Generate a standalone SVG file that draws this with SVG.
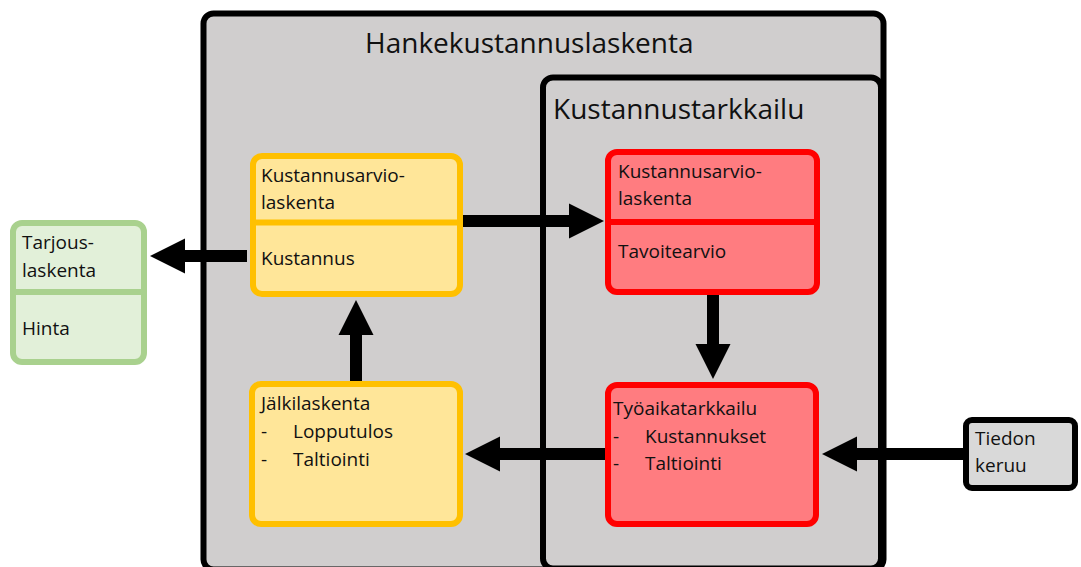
<svg xmlns="http://www.w3.org/2000/svg" width="1081" height="567" viewBox="0 0 1081 567">
<style>
text{font-family:"Open Sans","Noto Sans","Liberation Sans",sans-serif;fill:#111;}
.big{font-size:28px;}
.sm{font-size:19px;}
.frame{fill:#d0cece;stroke:#000;stroke-width:6;}
.yel{fill:#ffe699;stroke:#ffc000;stroke-width:6;}
.red{fill:#ff7c80;stroke:#ff0000;stroke-width:6;}
.grn{fill:#e2f0d9;stroke:#a9d18e;stroke-width:6;}
.gry{fill:#d9d9d9;stroke:#000;stroke-width:6;}
.dy{stroke:#ffc000;stroke-width:6;}
.dr{stroke:#ff0000;stroke-width:6;}
.dg{stroke:#a9d18e;stroke-width:6;}
.arr{stroke:#000;stroke-width:12;fill:none;marker-end:url(#head);}
</style>
<defs>
<marker id="head" markerUnits="userSpaceOnUse" markerWidth="35" markerHeight="35" refX="0" refY="17.5" orient="auto" overflow="visible">
<path d="M0,0 L35,17.5 L0,35 Z" fill="#000"/>
</marker>
</defs>
<g id="hankekustannuslaskenta">
<rect class="frame" x="203.5" y="13.5" width="680" height="556" rx="10"/>
<text class="big" x="365" y="53">Hankekustannuslaskenta</text>
</g>
<g id="kustannustarkkailu">
<rect class="frame" x="543" y="77.5" width="338" height="491" rx="10"/>
<text class="big" x="553" y="119">Kustannustarkkailu</text>
</g>
<g id="connectors">
<line class="arr" x1="247" y1="256" x2="185" y2="256"/>
<line class="arr" x1="463" y1="221" x2="569" y2="221"/>
<line class="arr" x1="356" y1="381" x2="356" y2="335"/>
<line class="arr" x1="713" y1="295" x2="713" y2="344"/>
<line class="arr" x1="605" y1="454" x2="500" y2="454"/>
<line class="arr" x1="963" y1="454" x2="857" y2="454"/>
</g>
<g id="tarjouslaskenta">
<rect class="grn" x="13" y="223" width="131" height="139" rx="9"/>
<line class="dg" x1="13" y1="292" x2="144" y2="292"/>
<text class="sm" x="22" y="249">Tarjous-</text>
<text class="sm" x="22" y="277">laskenta</text>
<text class="sm" x="22" y="335">Hinta</text>
</g>
<g id="kustannusarviolaskenta">
<rect class="yel" x="253" y="156" width="207" height="138" rx="9"/>
<line class="dy" x1="253" y1="222.5" x2="460" y2="222.5"/>
<text class="sm" x="261" y="182">Kustannusarvio-</text>
<text class="sm" x="261" y="209">laskenta</text>
<text class="sm" x="261" y="265">Kustannus</text>
</g>
<g id="jalkilaskenta">
<rect class="yel" x="252" y="384" width="208" height="140" rx="9"/>
<text class="sm" x="261" y="410">Jälkilaskenta</text>
<text class="sm" x="261" y="438">-</text>
<text class="sm" x="293" y="438">Lopputulos</text>
<text class="sm" x="261" y="466">-</text>
<text class="sm" x="293" y="466">Taltiointi</text>
</g>
<g id="tavoitearvio">
<rect class="red" x="608" y="152" width="209" height="140" rx="9"/>
<line class="dr" x1="608" y1="222" x2="817" y2="222"/>
<text class="sm" x="618" y="178">Kustannusarvio-</text>
<text class="sm" x="618" y="205">laskenta</text>
<text class="sm" x="618" y="258">Tavoitearvio</text>
</g>
<g id="tyoaikatarkkailu">
<rect class="red" x="608" y="385" width="208" height="139" rx="9"/>
<text class="sm" x="613" y="415">Työaikatarkkailu</text>
<text class="sm" x="613" y="443">-</text>
<text class="sm" x="645" y="443">Kustannukset</text>
<text class="sm" x="613" y="470">-</text>
<text class="sm" x="645" y="470">Taltiointi</text>
</g>
<g id="tiedonkeruu">
<rect class="gry" x="966" y="420" width="109" height="68" rx="6"/>
<text class="sm" x="975" y="445">Tiedon</text>
<text class="sm" x="975" y="472">keruu</text>
</g>
</svg>
